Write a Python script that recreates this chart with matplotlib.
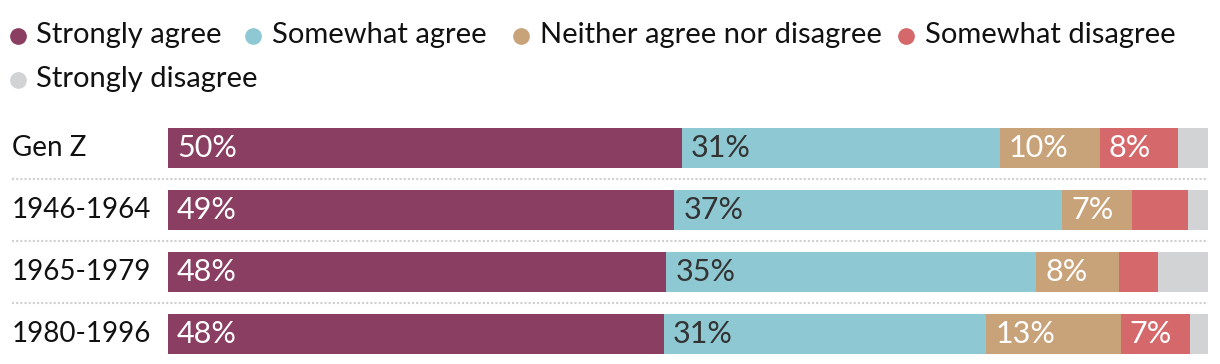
import matplotlib
matplotlib.use("Agg")
import matplotlib.pyplot as plt
import matplotlib.transforms as mtransforms
import numpy as np

plt.rcParams['font.family'] = ['Lato', 'DejaVu Sans']

categories = ["Gen Z", "1946-1964", "1965-1979", "1980-1996"]
series_names = ["Strongly agree", "Somewhat agree", "Neither agree nor disagree",
                "Somewhat disagree", "Strongly disagree"]
strongly_agree = [49.4, 48.7, 47.9, 47.7]
somewhat_agree = [30.6, 37.3, 35.6, 31.0]
neither = [9.6, 6.7, 7.9, 12.9]
somewhat_disagree = [7.5, 5.4, 3.8, 6.7]
strongly_disagree = [2.9, 1.9, 4.8, 1.7]
labels_strongly_agree = ["50%", "49%", "48%", "48%"]
labels_somewhat_agree = ["31%", "37%", "35%", "31%"]
labels_neither = ["10%", "7%", "8%", "13%"]
labels_somewhat_disagree = ["8%", "", "", "7%"]
labels_strongly_disagree = ["", "", "", ""]

series = [strongly_agree, somewhat_agree, neither, somewhat_disagree, strongly_disagree]
series_labels = [labels_strongly_agree, labels_somewhat_agree, labels_neither,
                 labels_somewhat_disagree, labels_strongly_disagree]
colors = ["#8a3e62", "#8ec9d3", "#c8a37a", "#d4686a", "#d2d3d5"]
text_colors = ["white", "#333333", "white", "white", "#333333"]

W, H = 1220, 364
fig = plt.figure(figsize=(W / 100, H / 100), dpi=100)

left_px, right_px = 168, 1208
top_px, bot_px = 117, 364
pitch = 62
ax = fig.add_axes([left_px / W, 1 - bot_px / H, (right_px - left_px) / W, (bot_px - top_px) / H])
n_units = (bot_px - top_px) / pitch
ax.set_ylim(-0.5 + n_units, -0.5)
ax.set_xlim(0, 100)
ax.axis('off')

y = np.arange(len(categories))
bar_h = 40 / pitch
left = np.zeros(len(categories))
for vals, labs, c, tc in zip(series, series_labels, colors, text_colors):
    ax.barh(y, vals, left=left, height=bar_h, color=c, linewidth=0)
    for i, (v, lab) in enumerate(zip(vals, labs)):
        if lab:
            ax.annotate(lab, (left[i], y[i]), xytext=(6.5, 0), textcoords='offset points',
                        ha='left', va='center', color=tc, fontsize=22)
    left = left + np.array(vals)

# dotted separators
for yy in [0.5, 1.5, 2.5]:
    ax.axhline(yy, xmin=(12 - left_px) / (right_px - left_px), xmax=1.0, color="#d0d0d0",
               linestyle=(0, (1, 1)), linewidth=1.5, clip_on=False)

# category labels
trans = mtransforms.blended_transform_factory(fig.transFigure, ax.transData)
for yi, cat in zip(y, categories):
    ax.text(12 / W, yi, cat, transform=trans, ha='left', va='center', fontsize=20, color="#111111")

# legend (manual, wrapped in two rows)
leg_ax = fig.add_axes([0, 0, 1, 1])
leg_ax.set_xlim(0, W)
leg_ax.set_ylim(H, 0)
leg_ax.axis('off')
leg_pos = [(17.5, 35.5), (252.5, 35.5), (520.5, 35.5), (906, 35.5), (17.5, 79.5)]
for (px, py), name, c in zip(leg_pos, series_names, colors):
    leg_ax.scatter([px], [py], s=145, color=c, linewidths=0)
    leg_ax.text(px + 19, py, name, ha='left', va='center', fontsize=21, color="#111111")

fig.savefig("out.png", dpi=100)
